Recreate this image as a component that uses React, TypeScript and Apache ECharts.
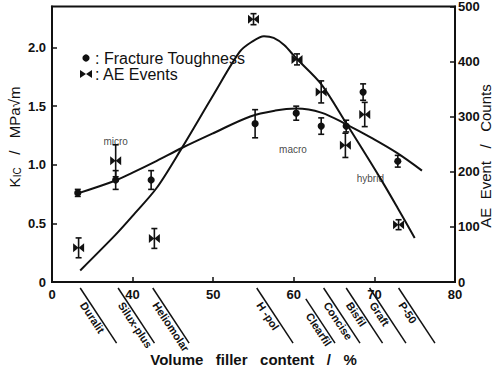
import React, { useEffect, useRef } from 'react';
import * as echarts from 'echarts';

// Fracture toughness (left axis, MPa√m)
const ftX = [33.2, 37.9, 42.3, 55.2, 60.3, 63.4, 66.5, 68.6, 72.9];
const ftY = [0.76, 0.87, 0.87, 1.35, 1.44, 1.33, 1.33, 1.62, 1.03];
const ftErr = [0.03, 0.08, 0.08, 0.12, 0.06, 0.07, 0.05, 0.07, 0.05];

// AE events (right axis, counts)
const aeX = [33.3, 37.9, 42.7, 55.0, 60.4, 63.4, 66.4, 68.8, 73.0];
const aeY = [62, 220, 79, 477, 404, 345, 248, 304, 104];
const aeErr = [18, 29, 18, 10, 10, 20, 22, 22, 9];

// fitted curves
const ftCurveX = [33.2, 37.9, 40.0, 43.0, 46.1, 50.0, 54.6, 57.7, 60.3, 63.4, 66.5, 69.7, 72.8, 75.9];
const ftCurveY = [0.756, 0.866, 0.933, 1.034, 1.143, 1.269, 1.412, 1.462, 1.479, 1.445, 1.345, 1.227, 1.101, 0.95];

const aeCurveX = [33.5, 37.9, 40.0, 43.0, 46.1, 50.0, 53.3, 54.8, 56.3, 57.5, 58.8, 60.3, 63.4, 66.5, 70.7, 72.9, 75.0];
const aeCurveY = [21, 86, 120, 171, 243, 339, 418, 436, 446, 443, 430, 406, 359, 288, 189, 134, 80];

// annotations
const noteNames = ['micro', 'macro', 'hybrid'];
const noteX = [37.9, 59.9, 69.5];
const noteY = [1.2, 1.13, 0.88];

// materials
const matNames = ['Duralit', 'Silux-plus', 'Heliomolar', 'H -pol', 'Clearfil', 'Concise', 'Bisfil', 'Graft', 'P-50'];
const matX = [33.5, 38.2, 42.5, 55.4, 60.6, 63.7, 66.5, 69.4, 73.0];

const FONT = 'Liberation Sans, Arial, sans-serif';
const INK = '#111';

export default function App() {
  const ref = useRef<HTMLDivElement>(null);
  useEffect(() => {
    const chart = echarts.init(ref.current!, null, { renderer: 'svg' });
    const ftData = ftX.map((x, i) => [x, ftY[i], ftErr[i]]);
    const aeData = aeX.map((x, i) => [x, aeY[i], aeErr[i]]);
    const lineStyle = { stroke: INK, lineWidth: 1.6 };
    const errBar = (c: number[], t: number[], b: number[]) => [
      { type: 'line', shape: { x1: c[0], y1: t[1], x2: c[0], y2: b[1] }, style: lineStyle },
      { type: 'line', shape: { x1: c[0] - 3, y1: t[1], x2: c[0] + 3, y2: t[1] }, style: lineStyle },
      { type: 'line', shape: { x1: c[0] - 3, y1: b[1], x2: c[0] + 3, y2: b[1] }, style: lineStyle },
    ];
    const option: any = {
      animation: false,
      backgroundColor: '#fff',
      grid: { left: 52, right: 44, top: 6, bottom: 86, show: true, borderColor: INK, borderWidth: 2 },
      xAxis: {
        type: 'value', min: 30, max: 80, interval: 10,
        name: 'Volume   filler   content   /   %', nameLocation: 'middle', nameGap: 70,
        nameTextStyle: { fontFamily: FONT, fontSize: 15, fontWeight: 'bold', color: INK },
        axisLine: { lineStyle: { color: INK, width: 2 } },
        axisTick: { inside: true, length: 5, lineStyle: { color: INK, width: 1.5 } },
        axisLabel: { fontFamily: FONT, fontSize: 13, fontWeight: 'bold', color: INK, margin: 6,
          formatter: (v: number) => (v === 30 ? '0' : String(v)) },
        splitLine: { show: false },
      },
      yAxis: [
        {
          type: 'value', min: 0, max: 2.35, interval: 0.5, position: 'left',
          axisLine: { show: true, lineStyle: { color: INK, width: 2 } },
          axisTick: { inside: true, length: 5, lineStyle: { color: INK, width: 1.5 } },
          axisLabel: { fontFamily: FONT, fontSize: 13, fontWeight: 'bold', color: INK, margin: 6, showMaxLabel: false,
            formatter: (v: number) => (v === 0 ? '0' : Math.abs(v * 2 - Math.round(v * 2)) < 1e-6 ? v.toFixed(1) : '') },
          splitLine: { show: false },
        },
        {
          type: 'value', min: 0, max: 500, interval: 100, position: 'right',
          axisLine: { show: true, lineStyle: { color: INK, width: 2 } },
          axisTick: { inside: true, length: 5, lineStyle: { color: INK, width: 1.5 } },
          axisLabel: { fontFamily: FONT, fontSize: 13, fontWeight: 'bold', color: INK, margin: 3 },
          splitLine: { show: false },
        },
      ],
      series: [
        {
          type: 'line', yAxisIndex: 0, smooth: 0.35, symbol: 'none',
          data: ftCurveX.map((x, i) => [x, ftCurveY[i]]),
          lineStyle: { color: INK, width: 2 },
        },
        {
          type: 'line', yAxisIndex: 1, smooth: 0.3, symbol: 'none',
          data: aeCurveX.map((x, i) => [x, aeCurveY[i]]),
          lineStyle: { color: INK, width: 2 },
        },
        {
          type: 'custom', yAxisIndex: 0, data: ftData, encode: { x: 0, y: 1 },
          renderItem: (params: any, api: any) => {
            const x = api.value(0), y = api.value(1), e = api.value(2);
            const c = api.coord([x, y]);
            const t = api.coord([x, y + e]);
            const b = api.coord([x, y - e]);
            return {
              type: 'group',
              children: [
                ...errBar(c, t, b),
                { type: 'circle', shape: { cx: c[0], cy: c[1], r: 3.6 }, style: { fill: INK } },
              ],
            };
          },
        },
        {
          type: 'custom', yAxisIndex: 1, data: aeData, encode: { x: 0, y: 1 },
          renderItem: (params: any, api: any) => {
            const x = api.value(0), y = api.value(1), e = api.value(2);
            const c = api.coord([x, y]);
            const t = api.coord([x, y + e]);
            const b = api.coord([x, y - e]);
            const w = 5.5, h = 4.5;
            return {
              type: 'group',
              children: [
                ...errBar(c, t, b),
                { type: 'polygon', shape: { points: [[c[0] - w, c[1] - h], [c[0] - w, c[1] + h], [c[0], c[1]]] }, style: { fill: INK } },
                { type: 'polygon', shape: { points: [[c[0] + w, c[1] - h], [c[0] + w, c[1] + h], [c[0], c[1]]] }, style: { fill: INK } },
              ],
            };
          },
        },
        {
          type: 'scatter', yAxisIndex: 0, symbolSize: 1, itemStyle: { color: 'rgba(0,0,0,0)' },
          data: noteNames.map((n, i) => ({ name: n, value: [noteX[i], noteY[i]] })),
          label: { show: true, position: 'inside', formatter: (p: any) => p.name, fontFamily: FONT, fontSize: 10, color: INK },
        },
      ],
      graphic: [],
    };
    chart.setOption(option);

    // material labels below the axis
    const ux = 0.551, uy = 0.834;
    const nx = -0.834, ny = 0.551;
    const g: any[] = [];
    matX.forEach((mx, i) => {
      const p = chart.convertToPixel({ xAxisIndex: 0, yAxisIndex: 0 }, [mx, 0]) as number[];
      const sx = p[0], sy = p[1] + 6;
      const startOff = matNames[i] === 'Clearfil' ? 13 : 0;
      const len = 66;
      g.push({
        type: 'line',
        shape: { x1: sx + ux * startOff, y1: sy + uy * startOff, x2: sx + ux * len, y2: sy + uy * len },
        style: { stroke: INK, lineWidth: 1.5 },
      });
      g.push({
        type: 'text',
        x: sx + ux * (14 + startOff) + nx * 6,
        y: sy + uy * (14 + startOff) + ny * 6,
        rotation: -Math.atan2(uy, ux),
        style: { text: matNames[i], fontFamily: FONT, fontSize: 11, fontWeight: 'bold', fill: INK, align: 'left', verticalAlign: 'middle' },
      });
    });
    // legend
    g.push({ type: 'circle', shape: { cx: 86, cy: 58, r: 3.6 }, style: { fill: INK } });
    g.push({ type: 'text', x: 95, y: 58, style: { text: ': Fracture Toughness', fontFamily: FONT, fontSize: 16, fill: INK, verticalAlign: 'middle' } });
    g.push({ type: 'polygon', shape: { points: [[80, 70], [80, 78], [86, 74]] }, style: { fill: INK } });
    g.push({ type: 'polygon', shape: { points: [[92, 70], [92, 78], [86, 74]] }, style: { fill: INK } });
    g.push({ type: 'text', x: 95, y: 74, style: { text: ': AE Events', fontFamily: FONT, fontSize: 16, fill: INK, verticalAlign: 'middle' } });
    // left axis title
    g.push({
      type: 'text', x: 14, y: 137, rotation: Math.PI / 2,
      style: {
        text: 'K{s|IC}   /   MPa√m',
        rich: { s: { fontSize: 10, fontFamily: FONT, fill: INK, padding: [6, 0, 0, 0] } },
        fontFamily: FONT, fontSize: 15, fill: INK, align: 'center', verticalAlign: 'middle',
      },
    });
    // right axis title
    g.push({
      type: 'text', x: 485, y: 156, rotation: Math.PI / 2,
      style: { text: 'AE  Event   /   Counts', fontFamily: FONT, fontSize: 15, fill: INK, align: 'center', verticalAlign: 'middle' },
    });
    chart.setOption({ graphic: g });

    return () => chart.dispose();
  }, []);
  return <div ref={ref} style={{ position: 'fixed', left: 0, top: 0, width: 499, height: 372, background: '#fff' }} />;
}
